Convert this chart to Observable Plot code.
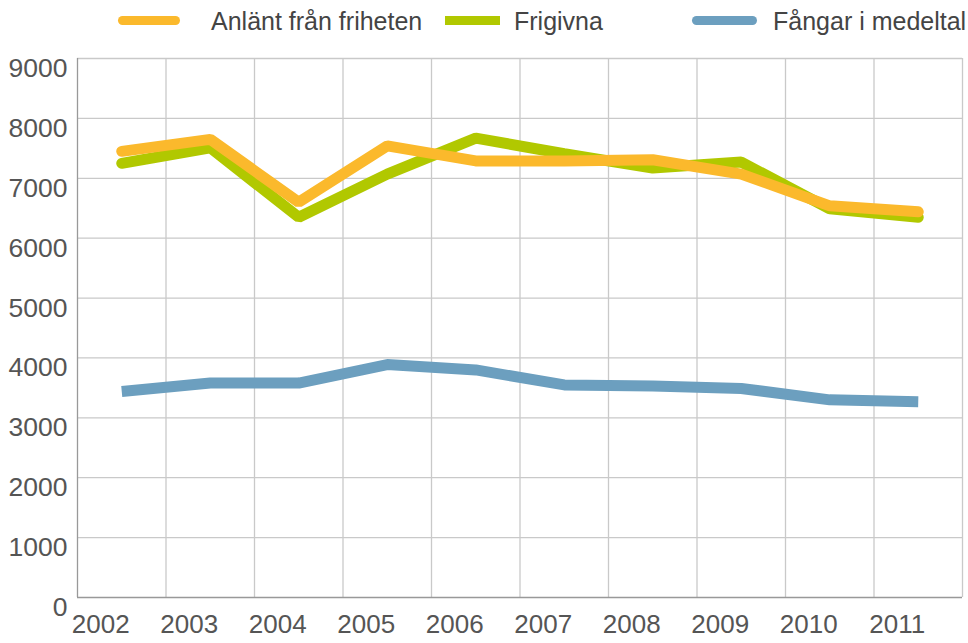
<!DOCTYPE html>
<html><head><meta charset="utf-8">
<script src="https://cdn.jsdelivr.net/npm/d3@7"></script>
<script src="https://cdn.jsdelivr.net/npm/@observablehq/plot@0.6"></script>
<style>
body{margin:0;background:#fff;font-family:"Liberation Sans Narrow","Liberation Sans",sans-serif;}
#wrap{position:relative;width:968px;height:643px;}
.leg{position:absolute;top:6px;font-size:25px;color:#444;line-height:30px;white-space:nowrap;}
.sw{position:absolute;height:9px;}
</style></head><body>
<div id="wrap">
  <div class="sw" style="left:118px;top:16px;width:62px;background:#fbb92c;border-radius:5px"></div>
  <div class="leg" style="left:211px">Anlänt från friheten</div>
  <div class="sw" style="left:445px;top:16px;width:55px;background:#b1c800"></div>
  <div class="leg" style="left:514px">Frigivna</div>
  <div class="sw" style="left:692px;top:16px;width:65px;background:#6c9fbf;border-radius:5px"></div>
  <div class="leg" style="left:773px">Fångar i medeltal</div>
  <div id="chart" style="position:absolute;left:0;top:0"></div>
</div>
<script>
const years = [2002,2003,2004,2005,2006,2007,2008,2009,2010,2011];
const anlant = [7450,7650,6600,7540,7290,7290,7310,7070,6540,6440];
const frigivna = [7250,7510,6350,7070,7670,7410,7170,7270,6490,6350];
const fangar = [3440,3580,3580,3890,3800,3550,3530,3490,3300,3270];
const yTicks = [0,1000,2000,3000,4000,5000,6000,7000,8000,9000];
const series = [
  {name:"Fångar i medeltal", values:fangar, color:"#6c9fbf", cap:"butt", join:"miter"},
  {name:"Frigivna", values:frigivna, color:"#b1c800", cap:"round", join:"miter"},
  {name:"Anlänt från friheten", values:anlant, color:"#fbb92c", cap:"round", join:"miter"}
];
const edges = years.map(y => y - 0.5).concat([years[years.length-1] + 0.5]);

const marks = [
  Plot.ruleY(yTicks.slice(1), {stroke:"#c9c9c9", strokeWidth:1.3}),
  Plot.ruleX(edges.slice(1), {stroke:"#c9c9c9", strokeWidth:1.3}),
  Plot.ruleX([edges[0]], {stroke:"#999", strokeWidth:1.3}),
  Plot.ruleY([0], {stroke:"#999", strokeWidth:1.3}),
  Plot.axisY(yTicks, {tickSize:0, tickPadding:10, dy:10, fontSize:26.5, fill:"#555", label:null, tickFormat:d=>String(d)}),
  Plot.axisX(years, {tickSize:0, tickPadding:4, dx:-21, dy:13, fontSize:26, fill:"#555", label:null, tickFormat:d=>String(d)})
];
for (const s of series) {
  marks.push(Plot.line(years.map((y,i)=>({year:y, value:s.values[i]})), {
    x:"year", y:"value", stroke:s.color, strokeWidth:11, strokeLinecap:s.cap, strokeLinejoin:s.join
  }));
}
const chart = Plot.plot({
  width:968, height:643,
  marginLeft:77, marginRight:6, marginTop:58, marginBottom:46,
  x:{domain:[edges[0], edges[edges.length-1]], axis:null},
  y:{domain:[0,9000], axis:null},
  style:{fontFamily:'"Liberation Sans Narrow","Liberation Sans",sans-serif', background:"transparent"},
  marks
});
document.getElementById("chart").appendChild(chart);
</script>
</body></html>
